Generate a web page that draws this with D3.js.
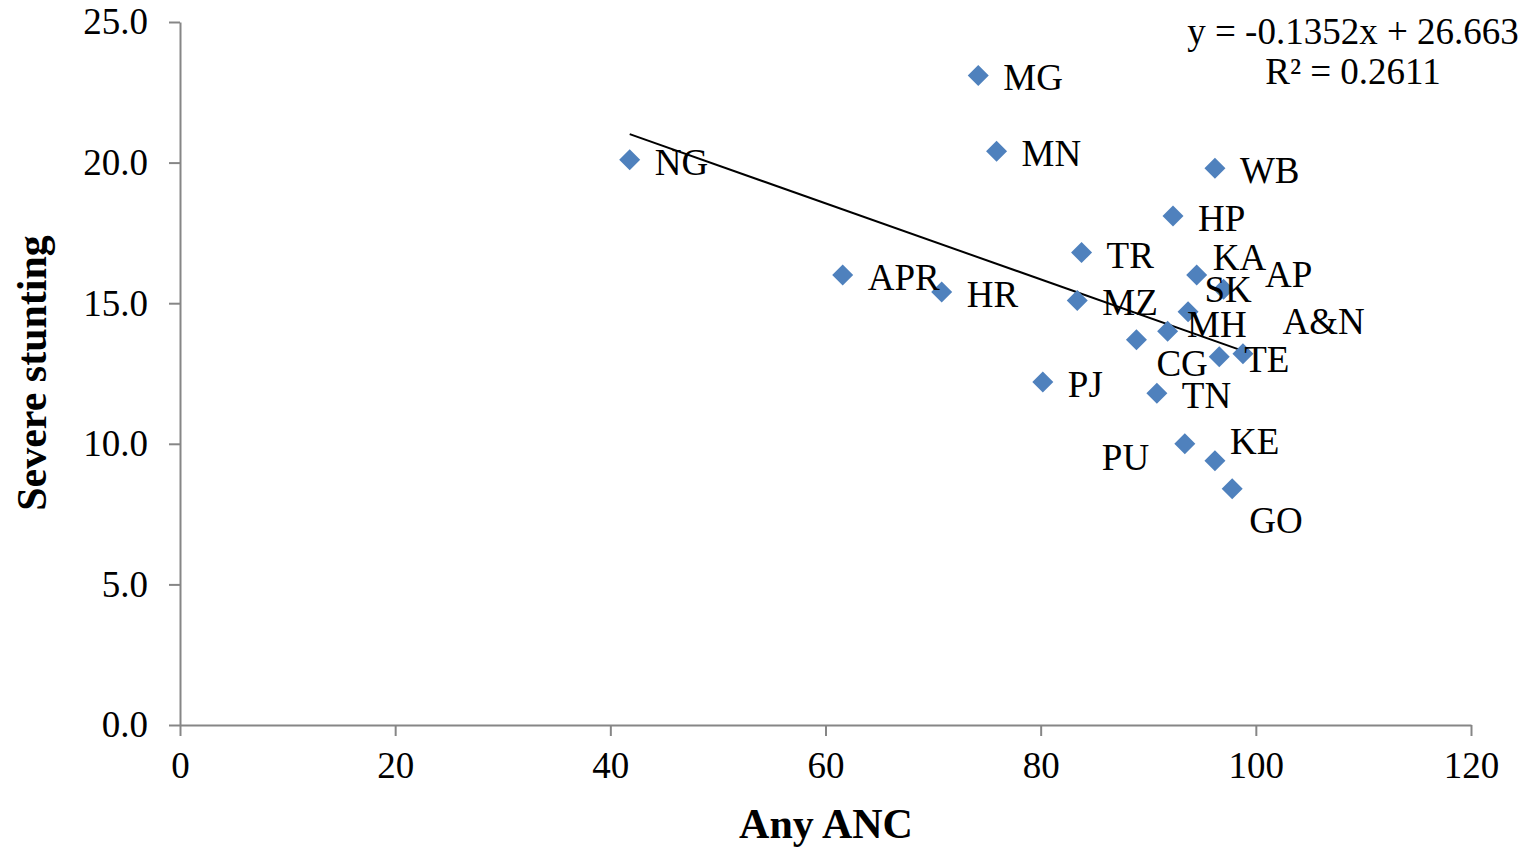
<!DOCTYPE html>
<html>
<head>
<meta charset="utf-8">
<script src="https://cdn.jsdelivr.net/npm/d3@7"></script>
<style>
  body { margin: 0; background: #fff; }
  text { font-family: "Liberation Serif", "Times New Roman", serif; fill: #000; }
</style>
</head>
<body>
<div id="chart"></div>
<script>
// states (abbrev), any ANC (%), severe stunting (%)
var states   = ["NG", "MG", "MN", "WB", "HP", "TR", "APR", "HR", "KA", "SK", "MZ",
                "MH", "A&N", "CG", "TE", "AP", "PJ", "TN", "PU", "KE", "GO"];
var anyANC   = [41.8, 74.2, 75.9, 96.2, 92.3, 83.8, 61.6, 70.8, 94.5, 97.0, 83.4,
                93.7, 91.8, 88.9, 96.6, 98.8, 80.2, 90.8, 93.4, 96.2, 97.8];
var stunting = [20.1, 23.1, 20.4, 19.8, 18.1, 16.8, 16.0, 15.4, 16.0, 15.5, 15.1,
                14.7, 14.0, 13.7, 13.1, 13.2, 12.2, 11.8, 10.0, 9.4, 8.4];

var xTicks = [0, 20, 40, 60, 80, 100, 120];
var yTicks = [0, 5, 10, 15, 20, 25];

// fitted trend line (as reported on the chart)
var slope = -0.1352, intercept = 26.663, r2 = 0.2611;

// labels that were dragged away from the default position (px)
var labelNudge = {
    "KA": [16, -18], "SK": [-19, 0], "MH": [-1, 12], "A&N": [115, -10],
    "CG": [20, 23], "AP": [22, -80], "PU": [-83, 13], "KE": [15, -20], "GO": [17, 31]
};

function main() {
    var width = 1530, height = 849;
    var margin = {top: 22, right: 59, bottom: 124, left: 180};

    var svg = d3.select("#chart").append("svg")
        .attr("width", width)
        .attr("height", height);

    var xScale = d3.scaleLinear().domain([0, 120]).range([margin.left, width - margin.right]);
    var yScale = d3.scaleLinear().domain([0, 25]).range([height - margin.bottom, margin.top]);

    var axisColor = "#868686";

    var xAxis = svg.append("g")
        .attr("transform", "translate(0," + yScale(0) + ")")
        .call(d3.axisBottom(xScale).tickValues(xTicks).tickSize(11).tickSizeOuter(0).tickPadding(14)
            .tickFormat(d3.format("d")));

    var yAxis = svg.append("g")
        .attr("transform", "translate(" + xScale(0) + ",0)")
        .call(d3.axisLeft(yScale).tickValues(yTicks).tickSize(11).tickSizeOuter(0).tickPadding(21)
            .tickFormat(d3.format(".1f")));

    [xAxis, yAxis].forEach(function(a) {
        a.select(".domain").attr("stroke", axisColor).attr("stroke-width", 2);
        a.selectAll(".tick line").attr("stroke", axisColor).attr("stroke-width", 2);
        a.selectAll(".tick text")
            .attr("font-family", "Liberation Serif, Times New Roman, serif")
            .attr("font-size", 37)
            .attr("fill", "#000");
    });
    xAxis.selectAll(".tick text").attr("dy", "0.75em");
    yAxis.selectAll(".tick text").attr("dy", "0.32em");

    var data = states.map(function(s, i) {
        return {name: s, x: anyANC[i], y: stunting[i]};
    });

    // trend line over the range of the data
    var xExt = d3.extent(anyANC);
    svg.append("line")
        .attr("x1", xScale(xExt[0]))
        .attr("y1", yScale(slope * xExt[0] + intercept))
        .attr("x2", xScale(xExt[1]))
        .attr("y2", yScale(slope * xExt[1] + intercept))
        .attr("stroke", "#000")
        .attr("stroke-width", 2);

    svg.append("g")
        .selectAll("path")
        .data(data)
        .join("path")
        .attr("d", "M0,-10.5L10.5,0L0,10.5L-10.5,0Z")
        .attr("transform", d => "translate(" + xScale(d.x) + "," + yScale(d.y) + ")")
        .attr("fill", "#4F81BD");

    svg.append("g")
        .selectAll("text")
        .data(data)
        .join("text")
        .attr("x", d => xScale(d.x) + (labelNudge[d.name] ? labelNudge[d.name][0] : 25))
        .attr("y", d => yScale(d.y) + (labelNudge[d.name] ? labelNudge[d.name][1] : 2))
        .attr("dy", "0.35em")
        .attr("font-size", 37)
        .text(d => d.name);

    // equation
    svg.append("text")
        .attr("x", 1353)
        .attr("y", 44)
        .attr("text-anchor", "middle")
        .attr("font-size", 37)
        .text("y = " + slope + "x + " + intercept);

    svg.append("text")
        .attr("x", 1353)
        .attr("y", 84)
        .attr("text-anchor", "middle")
        .attr("font-size", 37)
        .text("R² = " + r2);

    svg.append("text")
        .attr("x", 826)
        .attr("y", 838)
        .attr("text-anchor", "middle")
        .attr("font-size", 42)
        .attr("font-weight", "bold")
        .text("Any ANC");

    svg.append("text")
        .attr("transform", "translate(46," + 373 + ") rotate(-90)")
        .attr("text-anchor", "middle")
        .attr("font-size", 42)
        .attr("font-weight", "bold")
        .text("Severe stunting");
}

main();
</script>
</body>
</html>
